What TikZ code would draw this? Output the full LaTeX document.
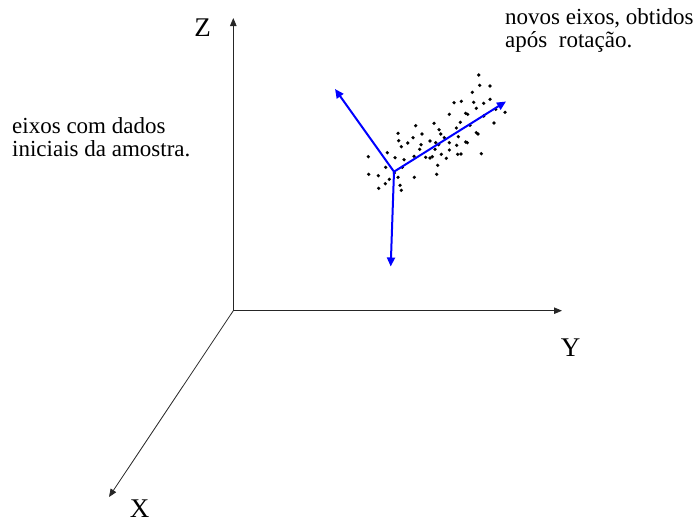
\documentclass[tikz,border=0pt]{standalone}
\usepackage{fontspec}
\setmainfont{Liberation Serif}
\usetikzlibrary{arrows.meta}
\begin{document}
\begin{tikzpicture}[x=1pt,y=-1pt,
  axis/.style={draw=black!85,line width=0.8pt,-{Triangle[length=8pt,width=6.5pt]}},
  newaxis/.style={draw=blue,line width=2pt,-{Triangle[length=9pt,width=8pt]}},
  lbl/.style={inner sep=0pt,font=\fontsize{27}{30}\selectfont},
  note/.style={inner sep=0pt,align=left,font=\fontsize{23}{23.4}\selectfont},
  dot/.style={fill=black}]
\useasboundingbox (0,0) rectangle (699,522);
% original axes
\coordinate (O) at (233.3,310.7);
\coordinate (Zt) at (233.3,18);
\coordinate (Yt) at (562,310.7);
\coordinate (Xt) at (109,497);
\draw[axis] (O) -- (Zt);
\draw[axis] (O) -- (Yt);
\draw[axis] (O) -- (Xt);
\node[lbl,anchor=base] (Z) at (202.5,36.7) {Z};
\node[lbl,anchor=base] (Y) at (570.5,356.7) {Y};
\node[lbl,anchor=base] (X) at (139.5,517) {X};
% data cloud
\foreach \p in {(478.7,75),(479.7,85.3),(490,86),(472.3,92.3),(454,102.7),(461.3,101.3),
(473.7,102.3),(483.7,103.3),(490,99.3),(476.3,108.3),(465.7,113.3),(467.7,114.3),
(449.3,114.3),(495.7,109.3),(505,112.3),(483.7,116),(460.3,122.3),(456.3,128),
(470,125.3),(494,123),(415.7,125.7),(434,123.3),(439,129.7),(440.7,134),(422,134),
(398,133.3),(476.3,132.7),(478,134),(458.3,136.7),(444.3,137.7),(413,137.7),
(398.7,140.7),(407.7,143),(430,141),(435.7,142.7),(449.3,142.7),(465.7,142),
(467.3,142.7),(401.3,146.7),(421,144.7),(438.7,144.7),(456.7,145.3),(419.7,149.3),
(435,149.3),(449.3,150),(387.3,152.7),(441.3,154.3),(457.7,154.3),(461,154),
(481.3,153.7),(368.3,156.7),(395,157.7),(414,156.3),(425.7,157.3),(430,158),
(432.3,156.7),(446.3,158.3),(404,159.7),(437.7,165.3),(385.7,167.3),(402.3,167.3),
(368.7,174.3),(378.3,175.7),(394.3,173),(436.7,174.3),(414.3,177.3),(389.3,179.3),
(398,177.3),(385.3,183.7),(400,185.3),(378.7,188.3),(401.3,190.3)}
  \fill[dot] \p circle[radius=1.8pt];
% new axes
\coordinate (N) at (394,171.7);
\coordinate (N1) at (506,101.5);
\coordinate (N2) at (335,89);
\coordinate (N3) at (390.7,266.5);
\draw[newaxis] (N) -- (N1);
\draw[newaxis] (N) -- (N2);
\draw[newaxis] (N) -- (N3);
% notes
\node[note,anchor=base west] (L) at (12,156.7) {eixos com dados\\iniciais da amostra.};
\node[note,anchor=base west] (R) at (505,47.7) {novos eixos, obtidos\\após\ \ rotação.};
\end{tikzpicture}
\end{document}
